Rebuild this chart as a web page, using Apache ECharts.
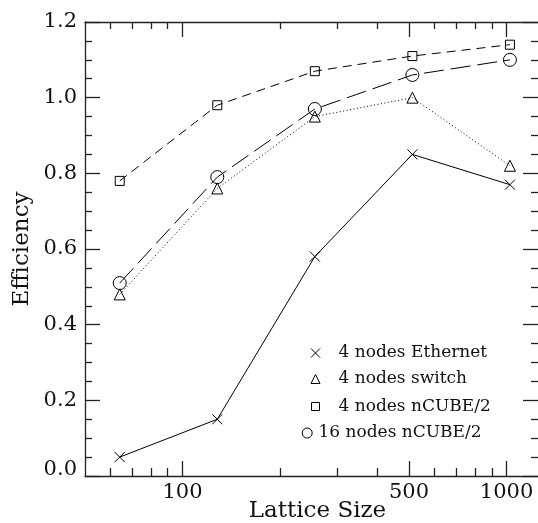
<!DOCTYPE html>
<html><head><meta charset="utf-8">
<script src="https://cdn.jsdelivr.net/npm/echarts@6/dist/echarts.min.js"></script>
<style>html,body{margin:0;padding:0;background:#fff;overflow:hidden}#c{width:538px;height:523px}</style>
</head><body><div id="c"></div>
<script>
// ---- data ----
const latticeSizes = [64, 128, 256, 512, 1024];
const ethernet4 = [0.05, 0.15, 0.58, 0.85, 0.77];
const switch4 = [0.48, 0.76, 0.95, 1.00, 0.82];
const ncube4 = [0.78, 0.98, 1.07, 1.11, 1.14];
const ncube16 = [0.51, 0.79, 0.97, 1.06, 1.10];
const seriesNames = ['4 nodes Ethernet', '4 nodes switch', '4 nodes nCUBE/2', '16 nodes nCUBE/2'];
const xTickLabels = [100, 500, 1000];
const xMajorTicks = [100, 500, 1000];
const xMinorTicks = [60, 70, 80, 90, 200, 300, 400, 600, 700, 800, 900];
const yTickLabels = ['0.0', '0.2', '0.4', '0.6', '0.8', '1.0', '1.2'];

// ---- chart ----
const FONT = 'DejaVu Serif';
const INK = '#111';
const axisLine = { color: '#222', width: 1.3 };
const CROSS = 'path://M0,0L10,10M10,0L0,10';

function xAxisDef(position, ticks, len, showLine, labels) {
  const a = {
    type: 'log', logBase: 10, min: 50, max: 1250, position: position, gridIndex: 0,
    axisLine: { show: showLine, onZero: false, lineStyle: axisLine },
    splitLine: { show: false },
    axisTick: { show: true, inside: true, length: len, customValues: ticks, lineStyle: axisLine },
    axisLabel: { show: false }
  };
  if (labels) {
    a.axisLabel = { show: true, customValues: xTickLabels, margin: 6, fontFamily: FONT, fontSize: 21, color: INK,
      formatter: v => String(Math.round(v)) };
    a.name = 'Lattice Size';
    a.nameLocation = 'middle';
    a.nameGap = 24;
    a.nameMoveOverlap = false;
    a.nameTextStyle = { fontFamily: FONT, fontSize: 23, color: INK, padding: [0, 0, 0, 12] };
  }
  return a;
}

function yAxisDef(position, labels) {
  const a = {
    type: 'value', min: 0, max: 1.2, interval: 0.2, position: position, gridIndex: 0,
    axisLine: { show: labels, onZero: false, lineStyle: axisLine },
    axisTick: { show: true, inside: true, length: 15, lineStyle: axisLine },
    minorTick: { show: true, splitNumber: 4, length: 7, lineStyle: axisLine },
    splitLine: { show: false }, minorSplitLine: { show: false },
    axisLabel: { show: false }
  };
  if (labels) {
    a.axisLabel = { show: true, margin: 8, fontFamily: FONT, fontSize: 21, color: INK,
      formatter: v => {
        const t = yTickLabels[Math.round(v / 0.2)];
        return v === 0 ? '{z|' + t + '}' : t;
      },
      rich: { z: { fontFamily: FONT, fontSize: 21, color: INK, padding: [0, 0, 12, 0] } } };
    a.name = 'Efficiency';
    a.nameLocation = 'middle';
    a.nameGap = 51;
    a.nameMoveOverlap = false;
    a.nameTextStyle = { fontFamily: FONT, fontSize: 23, color: INK };
  }
  return a;
}

function lineSeries(name, vals, symbol, size, dash) {
  return {
    name: name, type: 'line', xAxisIndex: 0, yAxisIndex: 0,
    data: latticeSizes.map((x, i) => [x, vals[i]]),
    symbol: symbol, symbolSize: size, showSymbol: true,
    lineStyle: { color: '#000', width: 1, type: dash },
    itemStyle: { color: 'transparent', borderColor: '#000', borderWidth: 1 },
    emphasis: { disabled: true }
  };
}

const legendItemStyle = { color: 'transparent', borderColor: '#000', borderWidth: 1 };
function legendDef(name, icon, size, left, top, textPad) {
  return {
    orient: 'vertical', left: left, top: top, padding: 0,
    itemWidth: size, itemHeight: size, selectedMode: false,
    textStyle: { fontFamily: FONT, fontSize: 17, color: INK, lineHeight: 17, padding: [0, 0, 0, textPad] },
    data: [{ name: name, icon: icon, itemStyle: legendItemStyle }]
  };
}

const option = {
  animation: false,
  backgroundColor: '#fff',
  grid: { left: 85, right: 0, top: 22, bottom: 47, containLabel: false, outerBoundsMode: 'none' },
  xAxis: [
    xAxisDef('bottom', xMajorTicks, 15, true, true),
    xAxisDef('bottom', xMinorTicks, 8, false, false),
    xAxisDef('top', xMajorTicks, 15, true, false),
    xAxisDef('top', xMinorTicks, 7, false, false)
  ],
  yAxis: [yAxisDef('left', true), yAxisDef('right', false)],
  legend: [
    legendDef(seriesNames[0], CROSS, 9, 310.5, 344.5, 13.5),
    legendDef(seriesNames[1], 'triangle', 9, 310.5, 370.5, 13.5),
    legendDef(seriesNames[2], 'rect', 8, 311, 398, 14),
    legendDef(seriesNames[3], 'circle', 10, 301.7, 424.5, 1.3)
  ],
  series: [
    lineSeries(seriesNames[0], ethernet4, CROSS, 10, 'solid'),
    lineSeries(seriesNames[1], switch4, 'triangle', 11, [1, 2.5]),
    lineSeries(seriesNames[2], ncube4, 'rect', 9, [9, 6]),
    lineSeries(seriesNames[3], ncube16, 'circle', 13, [20, 7])
  ]
};

const chart = echarts.init(document.getElementById('c'), null, { renderer: 'canvas' });
chart.setOption(option);
</script>
</body></html>
